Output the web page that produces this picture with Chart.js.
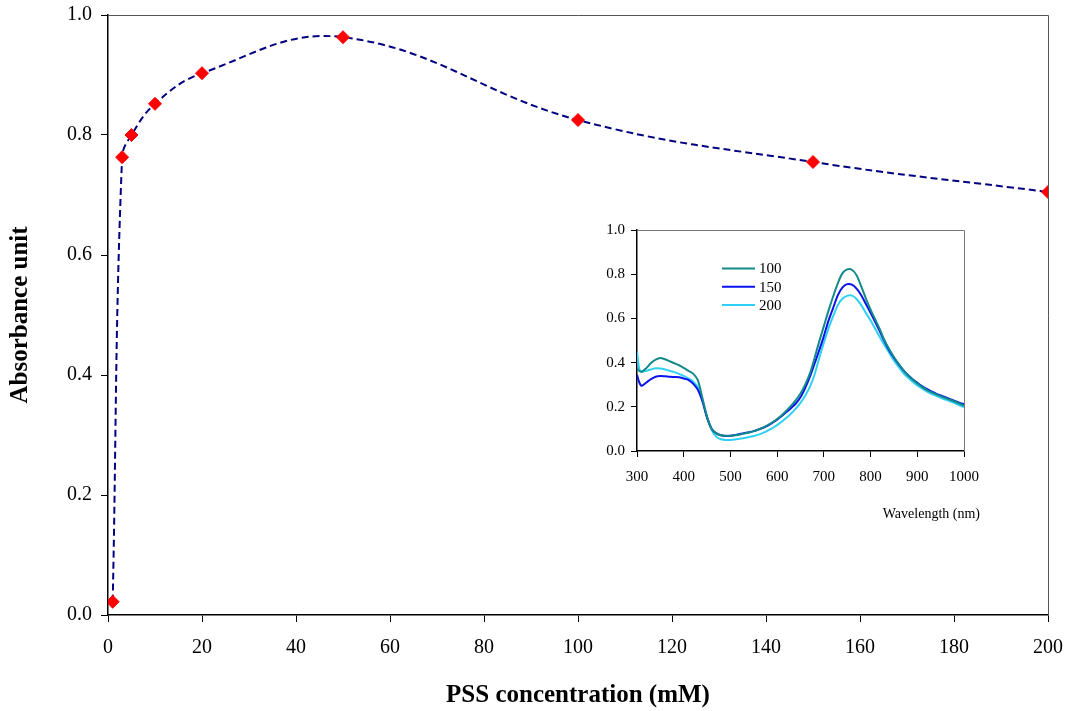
<!DOCTYPE html>
<html>
<head>
<meta charset="utf-8">
<title>PSS concentration</title>
<script src="https://cdn.jsdelivr.net/npm/chart.js@4.4.1/dist/chart.umd.min.js"></script>
<style>
  html, body { margin: 0; padding: 0; background: #fff; }
  #wrap { position: relative; width: 1071px; height: 711px; }
  #main { position: absolute; left: 0; top: 0; }
  #inset { position: absolute; left: 580px; top: 215px; }
</style>
</head>
<body>
<div id="wrap">
  <canvas id="main" width="1071" height="711"></canvas>
  <canvas id="inset" width="420" height="320"></canvas>
</div>
<script>
// absorbance maximum vs PSS concentration
const pssConc = [1, 3, 5, 10, 20, 50, 100, 150, 200];
const absorbance = [0.022, 0.763, 0.800, 0.852, 0.903, 0.963, 0.825, 0.755, 0.705];

// inset: spectra for three concentrations
const seriesLabels = ['100', '150', '200'];
const wavelength = [300, 305, 310, 320, 330, 340, 350, 360, 370, 380, 390, 400, 410, 420, 430, 440,
  450, 460, 470, 480, 490, 500, 510, 520, 530, 540, 550, 560, 570, 580, 590, 600, 610, 620, 630,
  640, 650, 660, 670, 680, 690, 700, 710, 720, 730, 740, 750, 760, 770, 780, 790, 800, 810, 820,
  830, 840, 850, 860, 870, 880, 890, 900, 910, 920, 930, 940, 950, 960, 970, 980, 990, 1000];
const abs100 = [0.373, 0.362, 0.358, 0.375, 0.398, 0.414, 0.421, 0.415, 0.406, 0.397, 0.388, 0.376,
  0.363, 0.350, 0.322, 0.240, 0.155, 0.100, 0.080, 0.071, 0.069, 0.069, 0.071, 0.075, 0.079, 0.084,
  0.090, 0.097, 0.106, 0.117, 0.130, 0.145, 0.162, 0.183, 0.205, 0.230, 0.260, 0.300, 0.350, 0.420,
  0.495, 0.565, 0.635, 0.700, 0.760, 0.805, 0.822, 0.820, 0.795, 0.745, 0.690, 0.640, 0.595, 0.550,
  0.500, 0.460, 0.425, 0.394, 0.366, 0.343, 0.323, 0.306, 0.290, 0.277, 0.266, 0.257, 0.248, 0.240,
  0.232, 0.224, 0.215, 0.205];
const abs150 = [0.345, 0.310, 0.295, 0.310, 0.325, 0.336, 0.339, 0.338, 0.336, 0.335, 0.334, 0.328,
  0.322, 0.305, 0.278, 0.225, 0.150, 0.100, 0.080, 0.071, 0.068, 0.069, 0.072, 0.077, 0.081, 0.085,
  0.090, 0.097, 0.105, 0.115, 0.128, 0.142, 0.158, 0.176, 0.195, 0.215, 0.243, 0.285, 0.335, 0.395,
  0.455, 0.520, 0.590, 0.648, 0.705, 0.740, 0.755, 0.753, 0.735, 0.705, 0.665, 0.625, 0.583, 0.540,
  0.495, 0.455, 0.422, 0.393, 0.366, 0.344, 0.325, 0.309, 0.294, 0.281, 0.270, 0.260, 0.251, 0.243,
  0.235, 0.227, 0.219, 0.212];
const abs200 = [0.450, 0.370, 0.360, 0.363, 0.369, 0.374, 0.373, 0.369, 0.363, 0.357, 0.349, 0.340,
  0.328, 0.315, 0.290, 0.230, 0.155, 0.095, 0.064, 0.053, 0.050, 0.050, 0.052, 0.055, 0.059, 0.063,
  0.068, 0.074, 0.082, 0.092, 0.104, 0.117, 0.133, 0.150, 0.170, 0.192, 0.218, 0.250, 0.290, 0.345,
  0.420, 0.490, 0.555, 0.610, 0.660, 0.690, 0.702, 0.703, 0.688, 0.660, 0.625, 0.590, 0.553, 0.515,
  0.478, 0.443, 0.410, 0.380, 0.353, 0.332, 0.313, 0.297, 0.283, 0.270, 0.259, 0.250, 0.241, 0.233,
  0.225, 0.217, 0.207, 0.198];
const seriesColors = ['#13898a', '#0a12f0', '#2fd0f5'];

const serif = '"Liberation Serif", "Times New Roman", serif';

// thin box on the top and right of the plot area
const frame = {
  id: 'frame',
  beforeDatasetsDraw(chart, args, opts) {
    const { left, top, right, bottom } = chart.chartArea;
    const ctx = chart.ctx;
    ctx.save();
    ctx.strokeStyle = opts.color || '#666';
    ctx.lineWidth = 1;
    ctx.beginPath();
    ctx.moveTo(left, Math.round(top) + 0.5);
    ctx.lineTo(Math.round(right) + 0.5, Math.round(top) + 0.5);
    ctx.lineTo(Math.round(right) + 0.5, bottom);
    ctx.stroke();
    ctx.restore();
  }
};

// fixed axis thickness, and no extra room for overhanging tick labels
function fixSize(prop, size) {
  return s => {
    s[prop] = size;
    s.paddingTop = 0; s.paddingBottom = 0;
    s.paddingLeft = 0; s.paddingRight = 0;
  };
}

function axisOpts(min, max, step, fontSize, tickLen, pad, fmt) {
  return {
    type: 'linear',
    min: min,
    max: max,
    ticks: {
      stepSize: step,
      color: '#000',
      padding: pad,
      font: { family: serif, size: fontSize },
      callback: fmt
    },
    grid: { drawOnChartArea: false, drawTicks: true, tickLength: tickLen, color: '#000', lineWidth: 1 },
    border: { color: '#000', width: 1.5 }
  };
}

// main chart
const mainX = axisOpts(0, 200, 20, 20, 7, 14, v => v);
mainX.title = {
  display: true, text: 'PSS concentration (mM)', color: '#000',
  font: { family: serif, size: 25, weight: 'bold' }, padding: { top: 0, bottom: 0 }
};
mainX.afterFit = fixSize('height', 96);

const mainY = axisOpts(0, 1, 0.2, 20, 7, 9, v => v.toFixed(1));
mainY.title = {
  display: true, text: 'Absorbance unit', color: '#000',
  font: { family: serif, size: 25, weight: 'bold' }, padding: { top: 6, bottom: 0 }
};
mainY.afterFit = fixSize('width', 108);

new Chart(document.getElementById('main'), {
  type: 'line',
  data: {
    datasets: [{
      data: pssConc.map((c, i) => ({ x: c, y: absorbance[i] })),
      borderColor: '#000080',
      borderWidth: 2,
      borderDash: [7, 4],
      tension: 0.4,
      fill: false,
      pointStyle: 'rectRot',
      pointRadius: 6.5,
      pointBackgroundColor: '#ff0000',
      pointBorderColor: '#ff0000',
      pointBorderWidth: 1
    }]
  },
  options: {
    responsive: false,
    animation: false,
    layout: { padding: { top: 15, right: 23, left: 0, bottom: 0 } },
    scales: { x: mainX, y: mainY },
    plugins: {
      legend: { display: false },
      tooltip: { enabled: false },
      frame: { color: '#555' }
    }
  },
  plugins: [frame]
});

// inset legend and axis caption
const insetText = {
  id: 'insetText',
  afterDatasetsDraw(chart) {
    const ctx = chart.ctx;
    ctx.save();
    ctx.font = '15px ' + serif;
    ctx.textBaseline = 'middle';
    chart.data.datasets.forEach((ds, i) => {
      const y = 53.5 + i * 18.3;
      ctx.strokeStyle = ds.borderColor;
      ctx.lineWidth = 2;
      ctx.beginPath();
      ctx.moveTo(142, y);
      ctx.lineTo(175, y);
      ctx.stroke();
      ctx.fillStyle = '#000';
      ctx.textAlign = 'left';
      ctx.fillText(ds.label, 179, y + 1);
    });
    ctx.font = '14px ' + serif;
    ctx.textAlign = 'right';
    ctx.fillText('Wavelength (nm)', 400, 299);
    ctx.restore();
  }
};

const insetX = axisOpts(300, 1000, 100, 15, 6, 11, v => v);
insetX.afterFit = fixSize('height', 84);
const insetY = axisOpts(0, 1, 0.2, 15, 6, 6, v => v.toFixed(1));
insetY.afterFit = fixSize('width', 57);

new Chart(document.getElementById('inset'), {
  type: 'line',
  data: {
    datasets: [abs100, abs150, abs200].map((vals, k) => ({
      label: seriesLabels[k],
      data: wavelength.map((w, i) => ({ x: w, y: vals[i] })),
      borderColor: seriesColors[k],
      borderWidth: 2,
      pointRadius: 0,
      tension: 0.3,
      fill: false
    }))
  },
  options: {
    responsive: false,
    animation: false,
    layout: { padding: { top: 15, right: 36, left: 0, bottom: 0 } },
    scales: { x: insetX, y: insetY },
    plugins: {
      legend: { display: false },
      tooltip: { enabled: false },
      frame: { color: '#777' }
    }
  },
  plugins: [frame, insetText]
});
</script>
</body>
</html>
